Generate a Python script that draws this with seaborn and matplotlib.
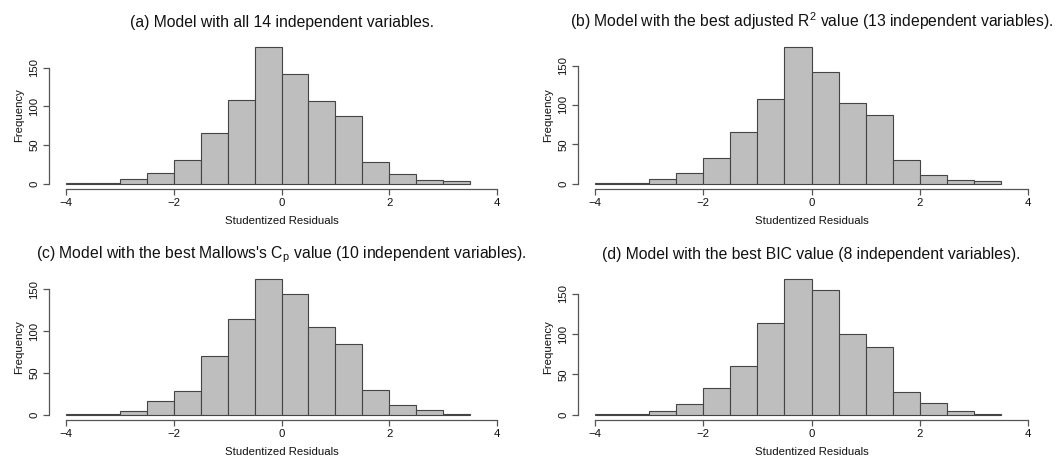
import numpy as np
import pandas as pd
import matplotlib
matplotlib.use("Agg")
import matplotlib.pyplot as plt
import seaborn as sns

# bin edges of the studentized residual histograms (width 0.5)
bin_edges = [-4.0, -3.5, -3.0, -2.5, -2.0, -1.5, -1.0, -0.5, 0.0, 0.5, 1.0, 1.5, 2.0, 2.5, 3.0, 3.5]

# counts per bin
counts_a = [1, 1, 6, 14, 31, 66, 108, 176, 142, 107, 87, 28, 12, 4, 3]
counts_b = [1, 1, 6, 13, 32, 65, 107, 173, 142, 103, 87, 30, 11, 4, 3]
counts_c = [1, 1, 4, 16, 28, 70, 115, 162, 144, 105, 84, 30, 12, 6, 1]
counts_d = [1, 1, 4, 13, 33, 61, 114, 168, 155, 100, 84, 28, 14, 5, 1]

titles = [
    "(a) Model with all 14 independent variables.",
    "(b) Model with the best adjusted R$^2$ value (13 independent variables).",
    "(c) Model with the best Mallows's C$_\\mathrm{p}$ value (10 independent variables).",
    "(d) Model with the best BIC value (8 independent variables).",
]
x_ticks = [-4, -2, 0, 2, 4]
y_ticks = [0, 50, 100, 150]

sns.set_style("white")
plt.rcParams["font.family"] = ["Liberation Sans", "DejaVu Sans"]
plt.rcParams["mathtext.fontset"] = "custom"
plt.rcParams["mathtext.rm"] = "Liberation Sans"
plt.rcParams["mathtext.it"] = "Liberation Sans:italic"
plt.rcParams["mathtext.default"] = "rm"

W, H = 1059, 457
fig = plt.figure(figsize=(W / 100, H / 100), dpi=100)

# plot regions in pixels: left, right, top, bottom
regions = [(49, 514, 42, 189), (578, 1045, 42, 189),
           (49, 514, 274, 420), (578, 1045, 274, 420)]

centers = [(bin_edges[i] + bin_edges[i + 1]) / 2 for i in range(len(bin_edges) - 1)]
axis_col = "#555555"

for (l, r, t, b), title, counts in zip(regions, titles, [counts_a, counts_b, counts_c, counts_d]):
    ax = fig.add_axes([l / W, 1 - b / H, (r - l) / W, (b - t) / H])
    df = pd.DataFrame({"resid": centers, "n": counts})
    sns.histplot(data=df, x="resid", weights="n", bins=bin_edges, ax=ax,
                 color="#bebebe", alpha=1.0, edgecolor="#444444", linewidth=0.8)
    top = max(counts)
    ax.set_xlim(-4.32, 4.32)
    ax.set_ylim(-0.04 * top, 1.04 * top)
    ax.set_xticks(x_ticks)
    ax.set_xticklabels(["\u22124", "\u22122", "0", "2", "4"])
    ax.set_yticks(y_ticks)
    ax.set_yticklabels([str(v) for v in y_ticks], rotation=90, va="center")
    for side in ["top", "right"]:
        ax.spines[side].set_visible(False)
    ax.spines["bottom"].set_bounds(-4, 4)
    ax.spines["left"].set_bounds(0, 150)
    for side in ["bottom", "left"]:
        ax.spines[side].set_color(axis_col)
        ax.spines[side].set_linewidth(0.9)
    ax.tick_params(axis="both", direction="out", length=4.5, width=0.9, color=axis_col,
                   labelsize=8.2, labelcolor="#111111", bottom=True, left=True)
    ax.tick_params(axis="x", pad=2)
    ax.tick_params(axis="y", pad=2.5)
    ax.set_xlabel("Studentized Residuals", fontsize=8.2, color="#111111", labelpad=6)
    ax.set_ylabel("Frequency", fontsize=8.2, color="#111111", labelpad=4)
    ax.set_title(title, fontsize=11.3, color="#111111", pad=11)

fig.savefig("out.png", dpi=100)
